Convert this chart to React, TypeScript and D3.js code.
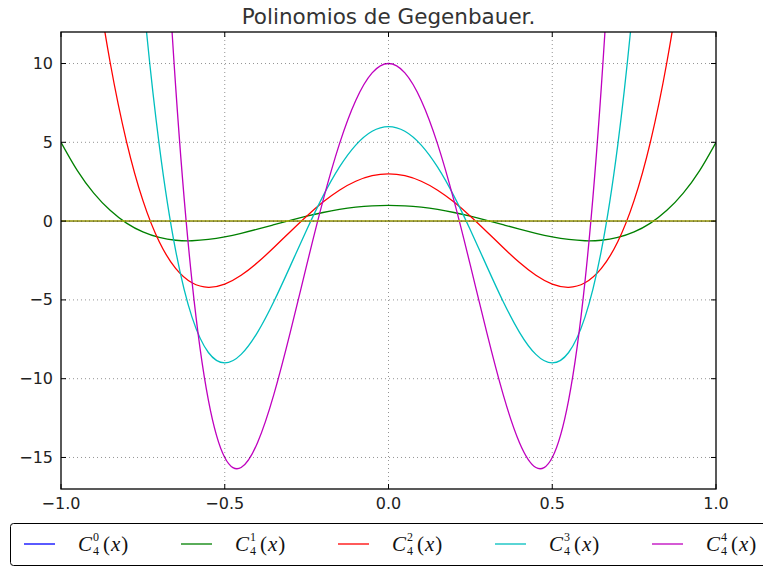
import React, { useEffect, useRef } from 'react';
import * as d3 from 'd3';

// sample points (x) and the values read for each curve C_4^a(x)
const xs = [
  -1, -0.95, -0.9, -0.85, -0.8, -0.75, -0.7, -0.65, -0.6, -0.55, -0.5, -0.45, -0.4, -0.35, -0.3, -0.25, -0.2, -0.15, -0.1, -0.05,
  0, 0.05, 0.1, 0.15, 0.2, 0.25, 0.3, 0.35, 0.4, 0.45, 0.5, 0.55, 0.6, 0.65, 0.7, 0.75, 0.8, 0.85, 0.9, 0.95, 1
];

const c0 = [
  0, 0, 0, 0, 0, 0, 0, 0, 0, 0, 0, 0, 0, 0, 0, 0, 0, 0, 0, 0,
  0, 0, 0, 0, 0, 0, 0, 0, 0, 0, 0, 0, 0, 0, 0, 0, 0, 0, 0, 0, 0
];
const c1 = [
  5, 3.2021, 1.7776, 0.6821, -0.1264, -0.6875, -1.0384, -1.2139, -1.2464, -1.1659, -1, -0.7739, -0.5104, -0.2299, 0.0496, 0.3125, 0.5456, 0.7381, 0.8816, 0.9701,
  1, 0.9701, 0.8816, 0.7381, 0.5456, 0.3125, 0.0496, -0.2299, -0.5104, -0.7739, -1, -1.1659, -1.2464, -1.2139, -1.0384, -0.6875, -0.1264, 0.6821, 1.7776, 3.2021, 5
];
const c2 = [
  35, 24.8405, 16.608, 10.0805, 5.048, 1.3125, -1.312, -2.9995, -3.912, -4.1995, -4, -3.4395, -2.632, -1.6795, -0.672, 0.3125, 1.208, 1.9605, 2.528, 2.8805,
  3, 2.8805, 2.528, 1.9605, 1.208, 0.3125, -0.672, -1.6795, -2.632, -3.4395, -4, -4.1995, -3.912, -2.9995, -1.312, 1.3125, 5.048, 10.0805, 16.608, 24.8405, 35
];
const c3 = [
  126, 93.1815, 66.264, 44.5815, 27.504, 14.4375, 4.824, -1.8585, -6.096, -8.3385, -9, -8.4585, -7.056, -5.0985, -2.856, -0.5625, 1.584, 3.4215, 4.824, 5.7015,
  6, 5.7015, 4.824, 3.4215, 1.584, -0.5625, -2.856, -5.0985, -7.056, -8.4585, -9, -8.3385, -6.096, -1.8585, 4.824, 14.4375, 27.504, 44.5815, 66.264, 93.1815, 126
];
const c4 = [
  336, 249.5235, 183.016, 128.9235, 85.776, 52.1875, 26.856, 8.5635, -3.824, -11.3565, -15, -15.6365, -14.064, -10.9965, -7.064, -2.8125, 1.296, 4.8835, 7.656, 9.4035,
  10, 9.4035, 7.656, 4.8835, 1.296, -2.8125, -7.064, -10.9965, -14.064, -15.6365, -15, -11.3565, -3.824, 8.5635, 26.856, 52.1875, 85.776, 128.9235, 183.016, 249.5235, 336
];

const seriesNames = ['0', '1', '2', '3', '4'];
const seriesColors = ['#0000ff', '#008000', '#ff0000', '#00bfbf', '#bf00bf'];
const seriesValues = [c0, c1, c2, c3, c4];

const xTicks = [-1, -0.5, 0, 0.5, 1];
const yTicks = [-15, -10, -5, 0, 5, 10];

const W = 763;
const H = 567;
const plot = { left: 61, right: 716, top: 32, bottom: 489 };

const fmtTick = (v: number, digits: number) => {
  const s = digits > 0 ? v.toFixed(digits) : String(v);
  return s.replace('-', '\u2212');
};

export default function App() {
  const svgRef = useRef<SVGSVGElement>(null);

  useEffect(() => {
    if (!svgRef.current) return;
    const svg = d3.select(svgRef.current);
    svg.selectAll('*').remove();

    const x = d3.scaleLinear().domain([-1, 1]).range([plot.left, plot.right]);
    const y = d3.scaleLinear().domain([-17, 12]).range([plot.bottom, plot.top]);

    svg.append('rect').attr('width', W).attr('height', H).attr('fill', '#fff');

    svg.append('defs').append('clipPath').attr('id', 'plotclip')
      .append('rect')
      .attr('x', plot.left).attr('y', plot.top)
      .attr('width', plot.right - plot.left).attr('height', plot.bottom - plot.top);

    const line = d3.line<number>()
      .x((_, i) => x(xs[i]))
      .y(d => y(d))
      .curve(d3.curveNatural);

    const lines = svg.append('g').attr('clip-path', 'url(#plotclip)');
    seriesValues.forEach((vals, k) => {
      lines.append('path')
        .attr('d', line(vals))
        .attr('fill', 'none')
        .attr('stroke', seriesColors[k])
        .attr('stroke-width', 1.3);
    });
    // yellow zero line drawn last (covers the blue one)
    lines.append('line')
      .attr('x1', plot.left).attr('x2', plot.right)
      .attr('y1', y(0)).attr('y2', y(0))
      .attr('stroke', '#bfbf00')
      .attr('stroke-width', 1.5);

    // grid (drawn over the lines, dotted)
    const grid = svg.append('g').attr('stroke', '#000').attr('stroke-width', 0.6)
      .attr('stroke-dasharray', '1,3').attr('opacity', 0.7);
    xTicks.slice(1, -1).forEach(t => {
      grid.append('line').attr('x1', x(t)).attr('x2', x(t)).attr('y1', plot.top).attr('y2', plot.bottom);
    });
    yTicks.forEach(t => {
      grid.append('line').attr('x1', plot.left).attr('x2', plot.right).attr('y1', y(t)).attr('y2', y(t));
    });

    // ticks inward, on all four sides
    const ticks = svg.append('g').attr('stroke', '#000').attr('stroke-width', 1);
    xTicks.forEach(t => {
      ticks.append('line').attr('x1', x(t)).attr('x2', x(t)).attr('y1', plot.bottom).attr('y2', plot.bottom - 5);
      ticks.append('line').attr('x1', x(t)).attr('x2', x(t)).attr('y1', plot.top).attr('y2', plot.top + 5);
    });
    yTicks.forEach(t => {
      ticks.append('line').attr('x1', plot.left).attr('x2', plot.left + 5).attr('y1', y(t)).attr('y2', y(t));
      ticks.append('line').attr('x1', plot.right).attr('x2', plot.right - 5).attr('y1', y(t)).attr('y2', y(t));
    });

    svg.append('rect')
      .attr('x', plot.left).attr('y', plot.top)
      .attr('width', plot.right - plot.left).attr('height', plot.bottom - plot.top)
      .attr('fill', 'none').attr('stroke', '#000').attr('stroke-width', 1.3);

    const labels = svg.append('g')
      .attr('font-family', 'DejaVu Sans, sans-serif')
      .attr('font-size', 16)
      .attr('fill', '#222');
    xTicks.forEach(t => {
      labels.append('text')
        .attr('x', x(t)).attr('y', plot.bottom + 20)
        .attr('text-anchor', 'middle')
        .text(fmtTick(t, 1));
    });
    yTicks.forEach(t => {
      labels.append('text')
        .attr('x', plot.left - 8).attr('y', y(t))
        .attr('dy', '0.35em')
        .attr('text-anchor', 'end')
        .text(fmtTick(t, 0));
    });

    svg.append('text')
      .attr('x', (plot.left + plot.right) / 2).attr('y', 24)
      .attr('text-anchor', 'middle')
      .attr('font-family', 'DejaVu Sans, sans-serif')
      .attr('font-size', 21.5)
      .attr('fill', '#333')
      .text('Polinomios de Gegenbauer.');

    // legend, runs past the right edge of the figure
    const leg = svg.append('g');
    leg.append('rect')
      .attr('x', 10.5).attr('y', 523.5)
      .attr('width', 780).attr('height', 42)
      .attr('rx', 3)
      .attr('fill', '#fff').attr('stroke', '#000').attr('stroke-width', 1);
    seriesNames.forEach((name, k) => {
      const x0 = 24 + k * 157;
      const ly = 544;
      leg.append('line')
        .attr('x1', x0).attr('x2', x0 + 31)
        .attr('y1', ly).attr('y2', ly)
        .attr('stroke', seriesColors[k]).attr('stroke-width', 1.3);
      const tx = x0 + 54;
      const fam = 'Liberation Serif, serif';
      const g = leg.append('g').attr('font-family', fam).attr('fill', '#111');
      g.append('text').attr('x', tx).attr('y', ly + 7)
        .attr('font-size', 21).attr('font-style', 'italic').text('C');
      g.append('text').attr('x', tx + 15).attr('y', ly - 3)
        .attr('font-size', 12).text(name);
      g.append('text').attr('x', tx + 15).attr('y', ly + 11)
        .attr('font-size', 12).text('4');
      const p = g.append('text').attr('x', tx + 25).attr('y', ly + 7).attr('font-size', 21);
      p.append('tspan').text('(');
      p.append('tspan').attr('font-style', 'italic').attr('dx', 1).text('x');
      p.append('tspan').attr('dx', 1).text(')');
    });
  }, []);

  return (
    <svg ref={svgRef} width={W} height={H}
      style={{ position: 'absolute', left: 0, top: 0, display: 'block' }} />
  );
}
